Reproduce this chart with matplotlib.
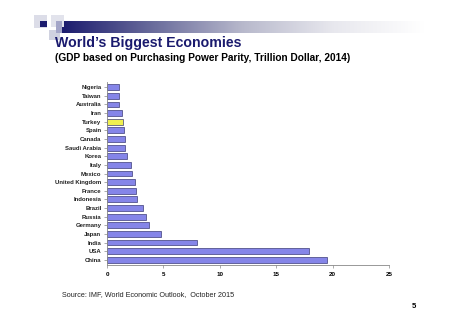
import numpy as np
import matplotlib
matplotlib.use("Agg")
import matplotlib.pyplot as plt
from matplotlib.patches import Rectangle

plt.rcParams['font.family'] = ['Liberation Sans', 'DejaVu Sans']

paises = ["China", "USA", "India", "Japan", "Germany", "Russia", "Brazil",
          "Indonesia", "France", "United Kingdom", "Mexico", "Italy", "Korea",
          "Saudi Arabia", "Canada", "Spain", "Turkey", "Iran", "Australia",
          "Taiwan", "Nigeria"]
pib = [19.5, 17.9, 8.0, 4.8, 3.7, 3.5, 3.2, 2.7, 2.6, 2.5, 2.2, 2.1, 1.75,
       1.6, 1.6, 1.55, 1.45, 1.3, 1.1, 1.05, 1.05]
destacado = "Turkey"
ticks_x = [0, 5, 10, 15, 20, 25]

fig = plt.figure(figsize=(4.74, 3.35), dpi=100)
W, H = 474, 335

# cabecera: cuadritos + barra degradada
fondo = fig.add_axes([0, 0, 1, 1])
fondo.set_xlim(0, W)
fondo.set_ylim(H, 0)
fondo.axis('off')
grad = np.linspace(0, 1, 256).reshape(1, -1)
cmap_grad = matplotlib.colors.LinearSegmentedColormap.from_list(
    "g", ["#1c1c6e", "#6a6c9c", "#b8b9cc", "#e8e8ee", "#ffffff"])
fondo.imshow(grad, cmap=cmap_grad, extent=[62, 425, 33, 21], aspect='auto')
fondo.add_patch(Rectangle((34, 15), 13, 13, color="#dcdde8", lw=0))
fondo.add_patch(Rectangle((51, 15), 13, 12, color="#e2e3ec", lw=0))
fondo.add_patch(Rectangle((49, 30), 11, 10, color="#d0d2e0", lw=0))
fondo.add_patch(Rectangle((40, 21), 7, 6, color="#1c1c6e", lw=0))
fondo.add_patch(Rectangle((56, 21), 6, 12, color="#a4a6c8", lw=0))

fig.text(55 / W, 1 - 43 / H, "World\u2019s Biggest Economies", fontsize=10.2,
         fontweight='bold', color="#1a1a6e", va='center')
fig.text(55 / W, 1 - 58 / H,
         "(GDP based on Purchasing Power Parity, Trillion Dollar, 2014)",
         fontsize=7.3, fontweight='bold', color="black", va='center')
fig.text(62 / W, 1 - 295 / H, "Source: IMF, World Economic Outlook,  October 2015",
         fontsize=5.2, color="#222222", va='center')
fig.text(412 / W, 1 - 307 / H, "5", fontsize=5.5, fontweight='bold',
         color="black", va='center')

ax = fig.add_axes([107 / W, 1 - 265 / H, (389 - 107) / W, (265 - 82) / H])
y = np.arange(len(paises))
colores = ["#f0f050" if p == destacado else "#8585e8" for p in paises]
ax.barh(y, pib, height=0.68, color=colores, edgecolor="#3c3c78", linewidth=0.5)
ax.set_yticks(y)
ax.set_yticklabels(paises, fontsize=4.3, fontweight='bold', color="#222222")
ax.set_ylim(-0.6, len(paises) - 0.4)
ax.set_xlim(0, 25)
ax.set_xticks(ticks_x)
ax.set_xticklabels([str(t) for t in ticks_x], fontsize=4.5, fontweight='bold')
for lado in ['top', 'right']:
    ax.spines[lado].set_visible(False)
ax.spines['left'].set_color("#888888")
ax.spines['bottom'].set_color("#888888")
ax.spines['left'].set_linewidth(0.6)
ax.spines['bottom'].set_linewidth(0.6)
ax.tick_params(axis='y', length=2, width=0.5, color="#888888", pad=2)
ax.tick_params(axis='x', length=2, width=0.5, color="#888888", pad=3)

fig.savefig("out.png", dpi=100)
